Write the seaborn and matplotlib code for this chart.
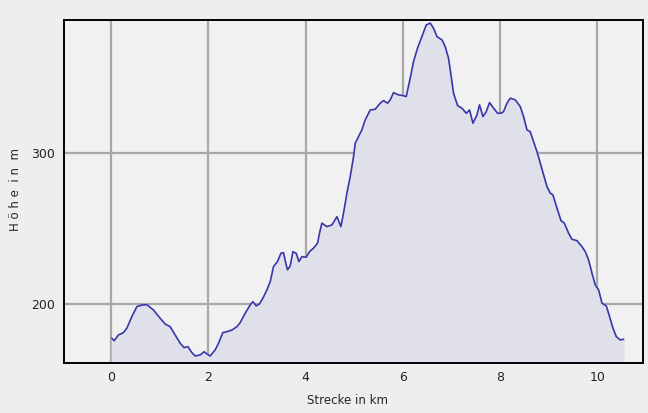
import seaborn as sns
import matplotlib.pyplot as plt
import pandas as pd

# Elevation profile (distance in km, elevation in m)
strecke_km = [0.014, 0.062, 0.150, 0.253, 0.323, 0.426, 0.529, 0.632, 0.735, 0.870,
              1.008, 1.111, 1.214, 1.317, 1.420, 1.502, 1.578, 1.660, 1.728, 1.831,
              1.914, 1.969, 2.037, 2.140, 2.208, 2.298, 2.381, 2.484, 2.586, 2.654,
              2.757, 2.860, 2.916, 2.984, 3.051, 3.121, 3.204, 3.272, 3.340, 3.422,
              3.492, 3.545, 3.601, 3.628, 3.683, 3.739, 3.807, 3.862, 3.924, 4.012,
              4.080, 4.163, 4.245, 4.286, 4.335, 4.438, 4.541, 4.644, 4.726, 4.780,
              4.850, 4.918, 4.986, 5.021, 5.088, 5.158, 5.226, 5.329, 5.432, 5.535,
              5.603, 5.685, 5.741, 5.809, 5.912, 6.002, 6.070, 6.152, 6.220, 6.302,
              6.393, 6.481, 6.564, 6.632, 6.702, 6.805, 6.872, 6.940, 6.990, 7.043,
              7.126, 7.216, 7.305, 7.372, 7.442, 7.525, 7.578, 7.648, 7.716, 7.784,
              7.866, 7.949, 8.019, 8.072, 8.142, 8.210, 8.313, 8.416, 8.484, 8.553,
              8.621, 8.677, 8.759, 8.827, 8.895, 8.965, 9.033, 9.088, 9.171, 9.253,
              9.321, 9.410, 9.480, 9.582, 9.685, 9.753, 9.821, 9.891, 9.959, 10.027,
              10.097, 10.185, 10.253, 10.323, 10.391, 10.473, 10.541]
hoehe_m = [177.2, 175.6, 179.4, 181.0, 183.9, 191.6, 198.2, 199.3, 199.5, 196.0,
           190.5, 186.7, 184.9, 179.4, 173.9, 171.0, 171.7, 167.7, 165.5, 166.2,
           168.3, 166.8, 165.5, 169.5, 173.9, 181.0, 181.6, 182.7, 184.9, 187.6,
           193.8, 199.3, 201.5, 198.7, 200.0, 203.8, 209.3, 214.8, 224.8, 228.1,
           233.6, 234.0, 225.9, 222.6, 225.2, 234.7, 233.6, 228.1, 231.4, 231.0,
           234.7, 237.0, 240.3, 246.9, 253.6, 251.3, 252.4, 257.9, 251.3, 260.2,
           273.5, 284.5, 297.7, 306.6, 311.0, 315.5, 322.1, 328.7, 329.2, 333.2,
           334.9, 333.2, 335.4, 340.2, 338.7, 338.2, 337.6, 349.8, 360.8, 369.7,
           377.4, 385.1, 386.3, 382.9, 377.4, 375.2, 370.7, 363.0, 352.0, 339.8,
           331.6, 329.9, 326.5, 328.7, 319.9, 325.4, 332.1, 324.3, 327.6, 333.6,
           329.9, 326.5, 326.5, 327.6, 333.2, 336.5, 335.4, 330.9, 324.3, 315.5,
           314.3, 308.8, 301.1, 293.4, 285.6, 277.8, 273.5, 272.3, 263.5, 255.3,
           253.6, 246.9, 242.9, 242.0, 238.0, 234.7, 229.2, 220.4, 212.6, 209.3,
           200.5, 198.7, 191.6, 183.9, 178.3, 176.1, 176.6]

x_ticks = [0, 2, 4, 6, 8, 10]
y_ticks = [200, 300]

df = pd.DataFrame({'strecke': strecke_km, 'hoehe': hoehe_m})

sns.set_style('white', {'axes.facecolor': '#f1f1f1', 'figure.facecolor': '#eeeeee',
                        'axes.edgecolor': 'black', 'grid.color': '#a6a6a6'})
plt.rcParams['font.family'] = ['DejaVu Sans']

fig = plt.figure(figsize=(6.48, 4.13), dpi=100)
ax = fig.add_axes([0.098, 0.121, 0.895, 0.831])

ylim = (160.8, 388.5)
ax.fill_between(df['strecke'], df['hoehe'], ylim[0], color='#dfe0ea', zorder=1)
sns.lineplot(data=df, x='strecke', y='hoehe', ax=ax, color='#3838ac',
             linewidth=1.2, zorder=3)

ax.set_xlim(-0.98, 10.95)
ax.set_ylim(*ylim)
ax.set_xticks(x_ticks)
ax.set_yticks(y_ticks)
ax.grid(True, color='#a8a8a8', linewidth=1.6)
for line in ax.get_xgridlines() + ax.get_ygridlines():
    line.set_zorder(2)
ax.tick_params(length=0, labelsize=9, colors='#222222', pad=6)
for sp in ax.spines.values():
    sp.set_linewidth(1.4)
    sp.set_zorder(4)

ax.set_xlabel('')
ax.set_ylabel('')
fig.text(0.537, 0.031, 'Strecke in km', fontsize=8.5, ha='center', va='center')
fig.text(0.024, 0.54, 'H ö h e  i n  m', fontsize=8.5, ha='center', va='center',
         rotation=90)

fig.savefig('out.png', dpi=100, facecolor=fig.get_facecolor())
